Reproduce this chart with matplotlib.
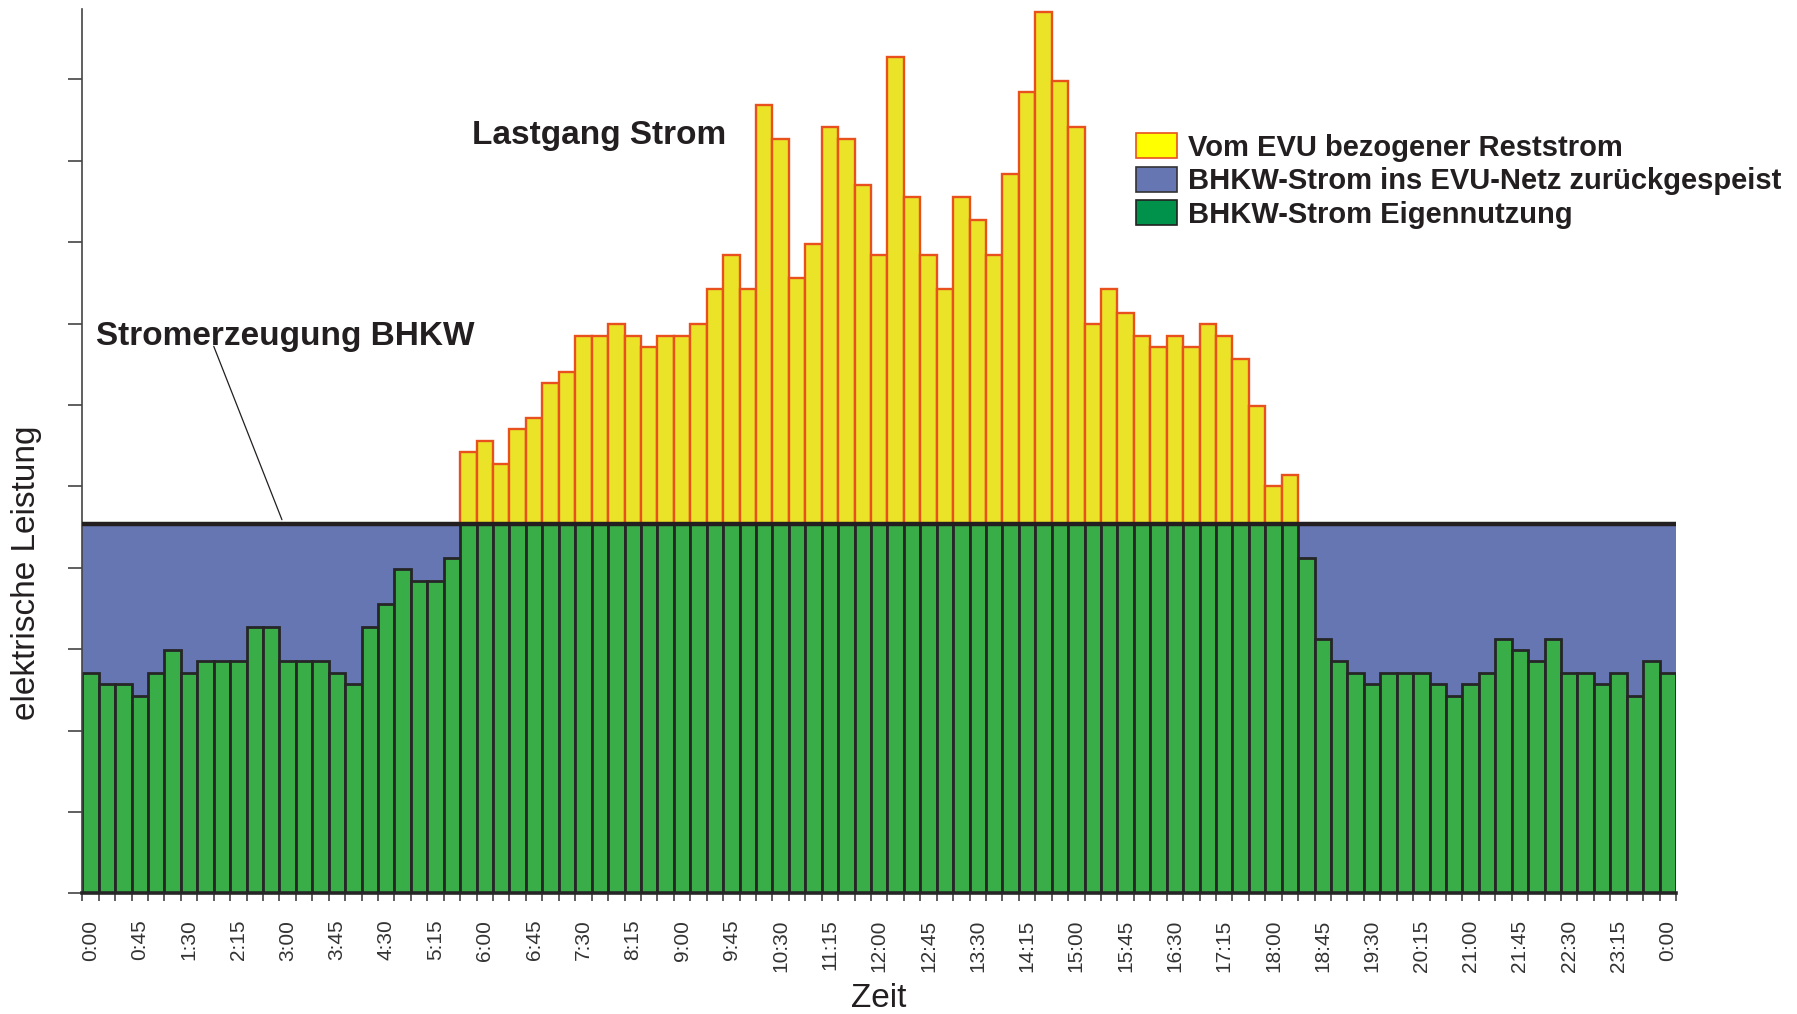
import numpy as np
import matplotlib.pyplot as plt
from matplotlib.patches import Patch

# Lastgang Strom (Viertelstundenwerte, 0:00 bis 24:00), BHKW-Leistung konstant
lastgang = [2.71, 2.57, 2.57, 2.42, 2.71, 2.99, 2.71, 2.85, 2.85, 2.85,
            3.27, 3.27, 2.85, 2.85, 2.85, 2.71, 2.57, 3.27, 3.55, 3.98,
            3.84, 3.84, 4.12,
            5.42, 5.56, 5.28, 5.70, 5.84, 6.27, 6.41, 6.85, 6.85, 6.99,
            6.85, 6.71, 6.85, 6.85, 6.99, 7.42, 7.84, 7.42, 9.69, 9.27,
            7.56, 7.98, 9.42, 9.27, 8.70, 7.84, 10.27, 8.55, 7.84, 7.42,
            8.55, 8.27, 7.84, 8.84, 9.84, 10.83, 9.98, 9.42, 6.99, 7.42,
            7.13, 6.85, 6.71, 6.85, 6.71, 6.99, 6.85, 6.56, 5.99, 5.01,
            5.14,
            4.12, 3.13, 2.85, 2.71, 2.57, 2.71, 2.71, 2.71, 2.57, 2.42,
            2.57, 2.71, 3.13, 2.99, 2.85, 3.13, 2.71, 2.71, 2.57, 2.71,
            2.42, 2.85, 2.71]
bhkw_leistung = 4.54

zeit_labels = ['0:00', '0:45', '1:30', '2:15', '3:00', '3:45', '4:30', '5:15',
               '6:00', '6:45', '7:30', '8:15', '9:00', '9:45', '10:30', '11:15',
               '12:00', '12:45', '13:30', '14:15', '15:00', '15:45', '16:30',
               '17:15', '18:00', '18:45', '19:30', '20:15', '21:00', '21:45',
               '22:30', '23:15', '0:00']

last = np.array(lastgang)
x = np.arange(len(last))
eigen = np.minimum(last, bhkw_leistung)
rueck = bhkw_leistung - eigen
rest = np.clip(last - bhkw_leistung, 0, None)
zukauf = rest > 0

txt = '#231f20'
c_gelb, c_rand = '#ebe328', '#e8501e'
c_blau, c_gruen = '#6676b2', '#38ad48'

plt.rcParams['font.family'] = ['Liberation Sans', 'DejaVu Sans']

fig = plt.figure(figsize=(17.97, 10.14), dpi=100)
ax = fig.add_axes([0.0458, 0.119, 0.8869, 0.8726])

# zurückgespeister Strom (Fläche bis zur BHKW-Leistung)
ax.bar(x, rueck, bottom=eigen, width=1.0, color=c_blau, linewidth=0)
# Eigennutzung
ax.bar(x, eigen, width=1.0, color=c_gruen, edgecolor='#262626', linewidth=2.0)
# Reststrom vom EVU
ax.bar(x[zukauf], rest[zukauf], bottom=bhkw_leistung, width=1.0,
       color=c_gelb, edgecolor=c_rand, linewidth=1.7)

ax.hlines(bhkw_leistung, -0.5, len(last) - 0.5, color='#231f20', lw=3.2, zorder=5)

ax.set_xlim(-0.5, len(last) - 0.5)
ax.set_ylim(0, 10.87)

ax.set_xticks(x[::3])
ax.set_xticklabels(zeit_labels, rotation=90, fontsize=15, color='#333333')
ax.set_xticks(np.arange(len(last) + 1) - 0.5, minor=True)
ax.tick_params(axis='x', which='major', length=0, pad=19)
ax.tick_params(axis='x', which='minor', length=6, width=1.2, color='#444444')
ax.set_yticks(np.arange(0, 11))
ax.set_yticklabels([])
ax.tick_params(axis='y', length=10, width=1.2, color='#444444')

for s in ['top', 'right']:
    ax.spines[s].set_visible(False)
ax.spines['left'].set_linewidth(1.2)
ax.spines['left'].set_color('#444444')
ax.spines['bottom'].set_linewidth(2.6)
ax.spines['bottom'].set_color('#262626')
ax.spines['bottom'].set_zorder(6)

ax.set_xlabel('Zeit', fontsize=24, color=txt, labelpad=8)
ax.set_ylabel('elektrische Leistung', fontsize=24, color=txt)
ax.yaxis.set_label_coords(-0.0253, 0.362)

ax.text(23.2, 9.20, 'Lastgang Strom', fontsize=24, fontweight='bold', color=txt)
ax.text(0.33, 6.74, 'Stromerzeugung BHKW', fontsize=24, fontweight='bold', color=txt)
ax.annotate('', xy=(11.65, bhkw_leistung + 0.05), xytext=(7.5, 6.72),
            arrowprops=dict(arrowstyle='-', lw=0.9, color=txt, shrinkA=0, shrinkB=0))

handles = [Patch(facecolor='#ffff00', edgecolor=c_rand, lw=1.2),
           Patch(facecolor=c_blau, edgecolor='#333333', lw=1.2),
           Patch(facecolor='#00914a', edgecolor='#222222', lw=1.2)]
labels = ['Vom EVU bezogener Reststrom',
          'BHKW-Strom ins EVU-Netz zurückgespeist',
          'BHKW-Strom Eigennutzung']
leg = fig.legend(handles, labels, loc='upper left',
                 bbox_to_anchor=(1136 / 1797, 1 - 133 / 1014),
                 frameon=False, borderpad=0, borderaxespad=0,
                 handlelength=1.4, handleheight=0.95, handletextpad=0.4,
                 labelspacing=0.17, prop={'size': 21, 'weight': 'bold'})
for t in leg.get_texts():
    t.set_color(txt)

fig.savefig('out.png', dpi=100)
